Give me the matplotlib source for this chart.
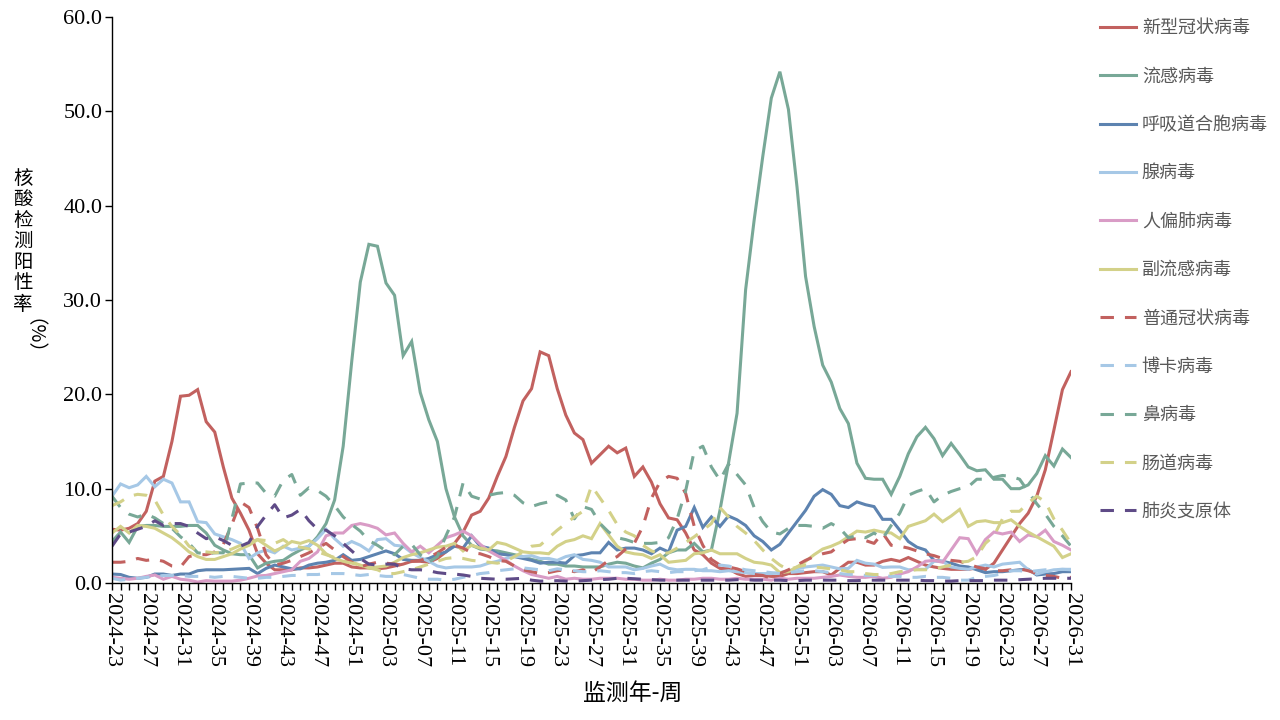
"""Weekly nucleic-acid positivity rates of respiratory pathogens,
2024-23 .. 2026-31, redrawn as an Excel-style line chart.
"""
import matplotlib
matplotlib.use("Agg")
import matplotlib.pyplot as plt

plt.rcParams["font.family"] = ["Liberation Serif", "Noto Sans CJK SC", "DejaVu Sans"]

# -------------------------------------------------------
# Data (percent).
# -------------------------------------------------------
weeks = (["2024-%02d" % w for w in range(23, 53)]
         + ["2025-%02d" % w for w in range(1, 53)]
         + ["2026-%02d" % w for w in range(1, 32)])

covid = [
    5.7, 5.6, 5.8, 6.3, 7.6, 10.8, 11.3, 15.0, 19.8, 19.9,
    20.5, 17.1, 16.0, 12.3, 9.0, 7.4, 5.6, 3.1, 2.1, 1.4,
    1.4, 1.4, 1.6, 1.6, 1.7, 1.9, 2.1, 2.1, 1.7, 1.6,
    1.6, 1.5, 1.6, 1.8, 2.0, 2.3, 2.3, 2.2, 2.6, 3.3,
    4.2, 5.4, 7.2, 7.6, 9.0, 11.3, 13.4, 16.5, 19.3, 20.6,
    24.5, 24.1, 20.6, 17.8, 15.9, 15.2, 12.7, 13.6, 14.5, 13.8,
    14.3, 11.3, 12.3, 10.7, 8.4, 6.9, 6.7, 5.3, 3.5, 3.0,
    2.1, 1.55, 1.5, 1.0, 0.7, 0.8, 0.8, 0.7, 0.7, 1.0,
    1.0, 1.1, 1.2, 1.2, 0.85, 1.55, 2.2, 2.2, 1.9, 1.9,
    2.3, 2.5, 2.3, 2.7, 2.3, 1.9, 1.7, 1.55, 1.45, 1.45,
    1.45, 1.6, 1.45, 2.1, 3.5, 4.9, 6.3, 7.4, 9.2, 12.0,
    16.2, 20.5, 22.4]
flu = [
    4.4, 5.4, 4.3, 6.0, 6.1, 6.1, 6.0, 6.0, 6.0, 6.1,
    6.1, 5.3, 4.0, 3.5, 3.1, 3.0, 3.0, 1.6, 2.1, 2.3,
    2.4, 3.0, 3.5, 3.9, 4.9, 6.3, 8.8, 14.5, 23.5, 31.9,
    35.9, 35.7, 31.8, 30.5, 24.1, 25.6, 20.2, 17.3, 15.0, 10.0,
    7.0, 5.0, 4.0, 3.6, 3.5, 3.4, 3.2, 3.0, 2.8, 2.5,
    2.3, 2.0, 2.0, 1.8, 1.8, 1.7, 1.7, 1.7, 2.0, 2.2,
    2.1, 1.8, 1.6, 2.1, 2.5, 3.2, 3.5, 3.5, 4.2, 3.3,
    3.5, 7.7, 12.7, 18.0, 31.1, 38.5, 45.2, 51.4, 54.2, 50.2,
    42.0, 32.5, 27.2, 23.1, 21.3, 18.5, 16.9, 12.7, 11.1, 11.0,
    11.0, 9.4, 11.3, 13.7, 15.5, 16.5, 15.3, 13.5, 14.8, 13.6,
    12.3, 11.9, 12.0, 11.0, 11.0, 10.0, 10.0, 10.4, 11.6, 13.5,
    12.4, 14.2, 13.3]
rsv = [
    0.95, 0.9, 0.6, 0.5, 0.6, 0.95, 0.95, 0.8, 0.95, 0.95,
    1.3, 1.4, 1.4, 1.4, 1.45, 1.5, 1.55, 1.0, 1.55, 1.9,
    1.7, 1.5, 1.5, 1.9, 2.1, 2.2, 2.4, 3.0, 2.4, 2.5,
    2.8, 3.1, 3.4, 3.1, 2.5, 2.4, 2.4, 2.6, 3.0, 3.3,
    3.9, 3.7, 5.0, 3.9, 3.7, 3.1, 3.0, 2.8, 2.6, 2.4,
    2.1, 2.2, 2.2, 2.1, 2.9, 3.0, 3.2, 3.2, 4.3, 3.5,
    3.7, 3.7, 3.5, 3.1, 3.7, 3.3, 5.6, 6.0, 8.0, 5.9,
    7.0, 6.0, 7.1, 6.7, 6.1, 5.0, 4.4, 3.5, 4.1, 5.3,
    6.5, 7.7, 9.2, 9.9, 9.4, 8.2, 8.0, 8.6, 8.3, 8.1,
    6.75, 6.75, 5.6, 4.4, 3.8, 3.5, 2.4, 2.3, 2.1, 1.8,
    1.7, 1.4, 1.1, 1.2, 1.2, 1.3, 1.4, 1.45, 0.85, 0.95,
    1.0, 1.2, 1.2]
adeno = [
    9.2, 10.5, 10.1, 10.4, 11.3, 10.2, 11.0, 10.6, 8.6, 8.6,
    6.5, 6.4, 5.2, 4.9, 4.6, 4.2, 2.6, 3.2, 3.5, 3.2,
    3.9, 3.5, 3.7, 3.9, 4.7, 5.7, 4.7, 3.9, 4.4, 4.0,
    3.4, 4.6, 4.7, 4.0, 3.9, 3.2, 2.7, 2.3, 1.8, 1.6,
    1.7, 1.7, 1.7, 1.8, 2.1, 2.3, 2.6, 2.8, 2.8, 2.9,
    2.6, 2.6, 2.4, 2.8, 3.0, 2.5, 2.4, 2.2, 1.7, 1.7,
    1.7, 1.4, 1.55, 1.8, 2.0, 1.55, 1.4, 1.45, 1.45, 1.3,
    1.3, 1.2, 1.3, 1.2, 1.1, 1.0, 1.0, 1.0, 1.1, 1.3,
    1.5, 1.7, 1.8, 1.9, 1.7, 1.5, 1.55, 2.4, 2.1, 2.0,
    1.65, 1.7, 1.7, 1.4, 1.45, 1.45, 2.3, 2.3, 1.7, 1.55,
    1.45, 1.7, 1.9, 1.7, 2.0, 2.1, 2.2, 1.4, 0.95, 1.2,
    1.4, 1.45, 1.4]
hmpv = [
    0.6, 0.5, 0.4, 0.5, 0.7, 0.85, 0.4, 0.7, 0.4, 0.3,
    0.1, 0.25, 0.2, 0.2, 0.2, 0.3, 0.5, 0.75, 0.8, 1.0,
    1.2, 1.4, 2.3, 2.6, 3.3, 5.0, 5.3, 5.3, 6.1, 6.3,
    6.1, 5.8, 5.1, 5.3, 4.2, 3.3, 3.9, 3.2, 4.0, 4.8,
    5.1, 5.5, 5.0, 4.1, 3.4, 2.9, 2.4, 1.8, 1.3, 0.9,
    0.7, 0.5, 0.7, 0.4, 0.5, 0.4, 0.4, 0.5, 0.5, 0.5,
    0.4, 0.4, 0.3, 0.3, 0.4, 0.3, 0.3, 0.4, 0.4, 0.5,
    0.5, 0.4, 0.4, 0.5, 0.4, 0.4, 0.4, 0.3, 0.5, 0.4,
    0.5, 0.5, 0.5, 0.6, 0.7, 0.85, 0.7, 0.6, 0.6, 0.7,
    0.5, 0.6, 0.95, 1.2, 1.7, 2.3, 2.4, 2.2, 3.5, 4.8,
    4.7, 3.1, 4.6, 5.4, 5.2, 5.4, 4.4, 5.1, 4.9, 5.6,
    4.4, 4.0, 3.5]
para = [
    5.3, 6.0, 5.3, 6.1, 6.0, 5.8, 5.3, 4.8, 4.1, 3.3,
    2.8, 2.5, 2.5, 2.8, 3.1, 3.6, 4.0, 4.6, 4.0, 3.4,
    3.8, 4.4, 4.2, 4.5, 4.0, 3.1, 2.6, 2.3, 2.2, 1.9,
    1.6, 1.7, 1.8, 2.2, 2.7, 3.0, 3.2, 3.5, 3.8, 3.9,
    4.2, 3.4, 4.0, 3.7, 3.5, 4.3, 4.1, 3.7, 3.3, 3.2,
    3.2, 3.1, 3.9, 4.4, 4.6, 5.0, 4.7, 6.3, 5.1, 3.9,
    3.3, 3.1, 3.0, 2.6, 3.0, 2.2, 2.3, 2.4, 3.1, 3.2,
    3.5, 3.1, 3.1, 3.1, 2.6, 2.2, 2.1, 1.9, 1.1, 1.2,
    1.7, 2.3, 3.0, 3.6, 3.9, 4.3, 4.9, 5.5, 5.4, 5.6,
    5.4, 5.3, 4.7, 6.0, 6.3, 6.6, 7.3, 6.5, 7.1, 7.8,
    6.0, 6.5, 6.6, 6.4, 6.4, 6.7, 6.0, 5.4, 4.9, 4.4,
    3.9, 2.7, 3.1]
hcov = [
    2.2, 2.2, 2.3, 2.6, 2.4, 2.5, 2.3, 1.8, 1.7, 2.8,
    3.0, 3.0, 3.3, 4.1, 6.2, 8.6, 8.0, 5.8, 3.0, 1.9,
    2.1, 2.4, 2.8, 3.2, 3.7, 4.2, 3.5, 2.8, 2.2, 1.7,
    2.0, 2.2, 2.1, 2.0, 1.9, 2.3, 2.4, 2.7, 3.2, 3.8,
    4.0, 3.7, 3.2, 3.1, 2.8, 2.4, 2.3, 1.8, 1.4, 1.2,
    1.0, 1.1, 1.3, 1.4, 1.2, 1.4, 1.1, 1.7, 2.4, 2.8,
    3.6, 4.2, 6.0, 9.0, 10.7, 11.3, 11.1, 9.5, 6.0, 4.0,
    2.5, 1.9, 1.7, 1.5, 1.2, 0.9, 0.8, 0.5, 1.0, 1.4,
    1.9, 2.4, 2.8, 3.1, 3.3, 4.0, 4.6, 4.7, 4.5, 4.2,
    5.3, 4.0, 3.9, 3.7, 3.4, 3.1, 2.9, 2.6, 2.4, 2.3,
    2.0, 1.7, 1.5, 1.3, 1.3, 1.4, 1.5, 1.3, 1.0, 0.8,
    0.7, 0.5, 0.6]
boca = [
    0.5, 0.3, 0.4, 0.5, 0.6, 0.7, 0.8, 0.8, 0.8, 0.7,
    0.7, 0.7, 0.6, 0.7, 0.7, 0.6, 0.5, 0.5, 0.6, 0.6,
    0.7, 0.8, 0.8, 0.9, 0.9, 1.0, 1.0, 1.0, 0.9, 0.8,
    0.9, 0.8, 0.7, 0.7, 0.9, 0.7, 0.5, 0.4, 0.4, 0.3,
    0.4, 0.6, 0.8, 1.0, 1.1, 1.3, 1.4, 1.5, 1.6, 1.5,
    1.4, 1.3, 1.5, 1.4, 1.3, 1.2, 1.2, 1.3, 1.2, 1.1,
    1.1, 1.0, 1.2, 1.3, 1.2, 1.1, 1.2, 1.2, 1.3, 1.4,
    1.7, 1.9, 1.8, 1.6, 1.4, 1.3, 1.2, 1.1, 1.0, 1.1,
    1.2, 1.3, 1.3, 1.2, 1.1, 1.0, 0.9, 0.9, 0.8, 0.8,
    0.8, 0.7, 0.7, 0.6, 0.6, 0.7, 0.6, 0.6, 0.5, 0.3,
    0.3, 0.6, 0.7, 0.8, 1.0, 1.3, 1.3, 1.2, 1.3, 1.4,
    1.4, 1.45, 1.45]
rhino = [
    9.2, 8.0, 7.3, 7.0, 7.3, 6.9, 6.3, 5.8, 4.9, 4.2,
    3.2, 3.1, 3.2, 3.2, 6.8, 10.5, 10.6, 10.6, 9.5, 9.2,
    10.9, 11.5, 9.3, 10.1, 9.8, 9.2, 8.2, 7.0, 6.2, 5.5,
    4.5, 4.0, 3.4, 3.0, 3.9, 4.1, 3.0, 2.2, 2.8, 5.0,
    7.0, 10.6, 9.2, 8.9, 9.3, 9.5, 9.6, 9.3, 8.5, 8.1,
    8.4, 8.6, 9.3, 8.8, 6.8, 8.1, 7.8, 6.3, 5.4, 4.8,
    4.6, 4.3, 4.2, 4.2, 4.3, 4.8, 6.8, 9.8, 14.0, 14.5,
    12.3, 10.9, 12.6, 11.5, 10.4, 8.0, 6.5, 5.4, 5.2, 5.8,
    6.1, 6.1, 6.0, 5.8, 6.3, 5.8, 4.8, 5.0, 4.8, 5.3,
    4.7, 6.1, 7.4, 9.3, 9.7, 10.0, 8.6, 9.3, 9.7, 10.0,
    10.2, 11.0, 11.0, 11.2, 11.4, 11.3, 11.0, 9.7, 8.4, 7.3,
    6.0, 5.0, 3.9]
entero = [
    8.2, 8.6, 9.2, 9.4, 9.3, 8.8, 7.2, 6.0, 5.1, 3.9,
    3.4, 3.3, 3.2, 3.3, 3.6, 4.0, 4.3, 4.6, 4.5, 4.2,
    4.6, 4.0, 3.8, 3.6, 3.3, 3.0, 2.7, 2.3, 2.1, 1.9,
    1.6, 1.4, 1.0, 1.0, 1.2, 1.4, 1.7, 2.0, 2.3, 2.6,
    2.7, 2.6, 2.4, 2.3, 2.2, 2.1, 2.3, 2.8, 3.3, 3.9,
    4.0, 4.8, 5.6, 6.3, 7.0, 7.6, 10.3, 9.0, 7.7, 6.2,
    5.4, 5.0, 4.0, 3.4, 3.1, 3.2, 3.7, 4.3, 4.9, 5.6,
    6.3, 8.0, 7.0, 6.0, 5.3, 4.5, 3.5, 2.6, 1.9, 1.4,
    1.7, 1.9, 1.7, 1.6, 1.5, 1.4, 1.2, 1.2, 1.0, 0.9,
    0.9, 1.0, 1.2, 1.3, 1.4, 1.4, 1.5, 1.7, 1.9, 2.2,
    2.3, 2.8, 4.2, 5.0, 6.8, 7.6, 7.6, 8.5, 9.2, 8.6,
    6.8, 5.6, 4.2]
myco = [
    3.9, 5.2, 5.4, 5.7, 6.0, 6.6, 6.1, 6.3, 6.3, 6.0,
    5.3, 4.7, 4.9, 4.5, 4.0, 3.9, 4.3, 6.0, 7.2, 8.3,
    6.9, 7.2, 7.8, 6.6, 5.7, 5.6, 5.0, 4.2, 3.4, 2.6,
    2.0, 1.9, 2.0, 2.0, 1.5, 1.4, 1.4, 1.3, 1.1, 1.0,
    0.95, 0.85, 0.7, 0.5, 0.45, 0.4, 0.4, 0.45, 0.5, 0.3,
    0.2, 0.2, 0.25, 0.2, 0.2, 0.25, 0.3, 0.35, 0.4, 0.5,
    0.5, 0.45, 0.4, 0.35, 0.3, 0.3, 0.3, 0.3, 0.3, 0.3,
    0.3, 0.3, 0.3, 0.35, 0.35, 0.3, 0.3, 0.3, 0.3, 0.25,
    0.25, 0.3, 0.3, 0.3, 0.3, 0.3, 0.25, 0.25, 0.3, 0.3,
    0.3, 0.3, 0.3, 0.3, 0.3, 0.25, 0.25, 0.2, 0.2, 0.25,
    0.25, 0.25, 0.25, 0.3, 0.3, 0.3, 0.35, 0.4, 0.45, 0.5,
    0.5, 0.5, 0.5]

# -------------------------------------------------------
# Plot styles: [values, label, colour, solid?]
# -------------------------------------------------------
red, green, blue = "#C2615F", "#78A897", "#5D83B0"
lblue, pink, yellow, purple = "#A6C8E6", "#D99CC6", "#D3D189", "#5F4B87"

series = [
    [covid, "新型冠状病毒", red, True],
    [flu, "流感病毒", green, True],
    [rsv, "呼吸道合胞病毒", blue, True],
    [adeno, "腺病毒", lblue, True],
    [hmpv, "人偏肺病毒", pink, True],
    [para, "副流感病毒", yellow, True],
    [hcov, "普通冠状病毒", red, False],
    [boca, "博卡病毒", lblue, False],
    [rhino, "鼻病毒", green, False],
    [entero, "肠道病毒", yellow, False],
    [myco, "肺炎支原体", purple, False],
]

fig = plt.figure(figsize=(12.8, 7.2), dpi=100)
ax = fig.add_axes([112/1280, 1-583/720, 959/1280, 566/720])

x = list(range(len(weeks)))
handles = []
for vals, label, c, solid in series:
    assert len(vals) == len(weeks)
    if solid:
        ln, = ax.plot(x, vals, color=c, lw=2.2, label=label,
                      solid_joinstyle="miter")
    else:
        ln, = ax.plot(x, vals, color=c, lw=2.2, label=label,
                      dashes=(4.4, 3.6), dash_capstyle="butt")
    handles.append(ln)

ax.set_xlim(0, len(weeks)-1)
ax.set_ylim(0, 60)
ax.set_yticks(range(0, 61, 10))
ax.set_yticklabels(["%.1f" % v for v in range(0, 61, 10)], fontsize=16)
ax.set_xticks(x)
ax.set_xticklabels([w if i % 4 == 0 else "" for i, w in enumerate(weeks)],
                   rotation=270, fontsize=16, ha="center", va="top")
ax.tick_params(axis="x", direction="out", length=5, width=1, pad=2)
ax.tick_params(axis="y", direction="out", length=5, width=1, pad=2)
for side in ["top", "right"]:
    ax.spines[side].set_visible(False)
for side in ["left", "bottom"]:
    ax.spines[side].set_linewidth(1.0)
    ax.spines[side].set_color("black")

# vertical stacked y label
for k, ch in enumerate("核酸检测阳性率"):
    fig.text(23/1280, 1-(178+21*k)/720, ch, ha="center", va="center",
             fontsize=14, family=["Noto Sans CJK SC"])
fig.text(23/1280, 1-346/720, "（%）", ha="center", va="center",
         rotation=270, fontsize=14, family=["Noto Sans CJK SC"])

fig.text(633/1280, 1-693/720, "监测年-周", ha="center", va="center",
         fontsize=16.5, family=["Noto Sans CJK SC", "DejaVu Sans"])

leg = ax.legend(handles=handles, loc="upper left",
                bbox_to_anchor=(1084/1280, 1-3/720),
                bbox_transform=fig.transFigure, frameon=False,
                prop={"family": "Noto Sans CJK SC", "size": 13},
                labelspacing=1.68, handlelength=2.0, handletextpad=0.3)
for t in leg.get_texts():
    t.set_color("#595959")

fig.savefig("out.png", dpi=100)
